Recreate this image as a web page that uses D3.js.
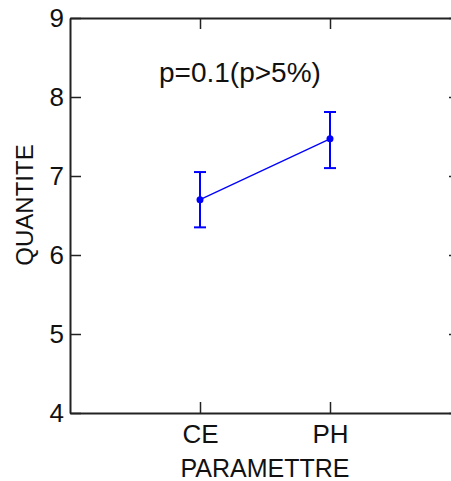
<!DOCTYPE html>
<html>
<head>
  <meta charset="utf-8">
  <title>QUANTITE par PARAMETTRE</title>
  <script src="https://d3js.org/d3.v7.min.js"></script>
  <style>
    body { margin: 0; padding: 0; background: white; }
    text { font-family: "Liberation Sans", Arial, sans-serif; fill: #111; }
    .axis path, .axis line { stroke: #222; }
    .axis path { stroke-width: 2; }
    .axis line { stroke-width: 1.5; }
  </style>
</head>
<body>
  <div id="chart"></div>
  <script>
    // data
    var categories = ["CE", "PH"];
    var means = [6.7, 7.47];
    var upper = [7.05, 7.81];
    var lower = [6.35, 7.1];
    var yTicks = [4, 5, 6, 7, 8, 9];
    var note = "p=0.1(p>5%)";

    var width = 451, height = 481;

    var svg = d3.select("#chart").append("svg")
        .attr("width", width)
        .attr("height", height)
        .style("overflow", "hidden");

    // x: categories sit at 1 and 2 on a 0..3 axis
    var x = d3.scaleLinear().domain([0, 3]).range([70, 460]);
    var y = d3.scaleLinear().domain([4, 9]).range([413, 18]);
    var pos = function(i) { return x(i + 1); };

    // axes (ticks pointing inward)
    svg.append("g").attr("class", "axis")
        .attr("transform", "translate(0,413)")
        .call(d3.axisBottom(x).tickValues([1, 2]).tickFormat(function(d) { return categories[d - 1]; })
          .tickSizeInner(-11).tickSizeOuter(0).tickPadding(12))
        .selectAll("text").style("font-size", "26px").attr("fill", "#111");

    svg.append("g").attr("class", "axis")
        .attr("transform", "translate(0,18)")
        .call(d3.axisTop(x).tickValues([1, 2]).tickFormat("").tickSizeInner(-11).tickSizeOuter(0));

    svg.append("g").attr("class", "axis")
        .attr("transform", "translate(70,0)")
        .call(d3.axisLeft(y).tickValues(yTicks).tickFormat(d3.format("d"))
          .tickSizeInner(-11).tickSizeOuter(0).tickPadding(6))
        .selectAll("text").style("font-size", "26px").attr("fill", "#111");

    svg.append("g").attr("class", "axis")
        .attr("transform", "translate(460,0)")
        .call(d3.axisRight(y).tickValues(yTicks).tickFormat("").tickSizeInner(-11).tickSizeOuter(0));

    // connecting line
    var line = d3.line()
        .x(function(d, i) { return pos(i); })
        .y(function(d) { return y(d); });

    svg.append("path")
        .datum(means)
        .attr("d", line)
        .attr("fill", "none")
        .attr("stroke", "blue")
        .attr("stroke-width", 1.3);

    // error bars
    var bars = svg.selectAll(".err").data(means).enter().append("g").attr("class", "err");
    bars.append("line")
        .attr("x1", function(d, i) { return pos(i); })
        .attr("x2", function(d, i) { return pos(i); })
        .attr("y1", function(d, i) { return y(upper[i]); })
        .attr("y2", function(d, i) { return y(lower[i]); })
        .attr("stroke", "blue").attr("stroke-width", 2);
    bars.append("line")
        .attr("x1", function(d, i) { return pos(i) - 6; })
        .attr("x2", function(d, i) { return pos(i) + 6; })
        .attr("y1", function(d, i) { return y(upper[i]); })
        .attr("y2", function(d, i) { return y(upper[i]); })
        .attr("stroke", "blue").attr("stroke-width", 2);
    bars.append("line")
        .attr("x1", function(d, i) { return pos(i) - 6; })
        .attr("x2", function(d, i) { return pos(i) + 6; })
        .attr("y1", function(d, i) { return y(lower[i]); })
        .attr("y2", function(d, i) { return y(lower[i]); })
        .attr("stroke", "blue").attr("stroke-width", 2);
    bars.append("circle")
        .attr("cx", function(d, i) { return pos(i); })
        .attr("cy", function(d) { return y(d); })
        .attr("r", 3.5)
        .attr("fill", "blue");

    // labels
    svg.append("text")
        .attr("x", (70 + 460) / 2)
        .attr("y", 477)
        .attr("text-anchor", "middle")
        .style("font-size", "25px")
        .text("PARAMETTRE");

    svg.append("text")
        .attr("transform", "translate(33,205) rotate(-90)")
        .attr("text-anchor", "middle")
        .style("font-size", "24px")
        .text("QUANTITE");

    svg.append("text")
        .attr("x", 159)
        .attr("y", 82)
        .style("font-size", "28px")
        .text(note);
  </script>
</body>
</html>
